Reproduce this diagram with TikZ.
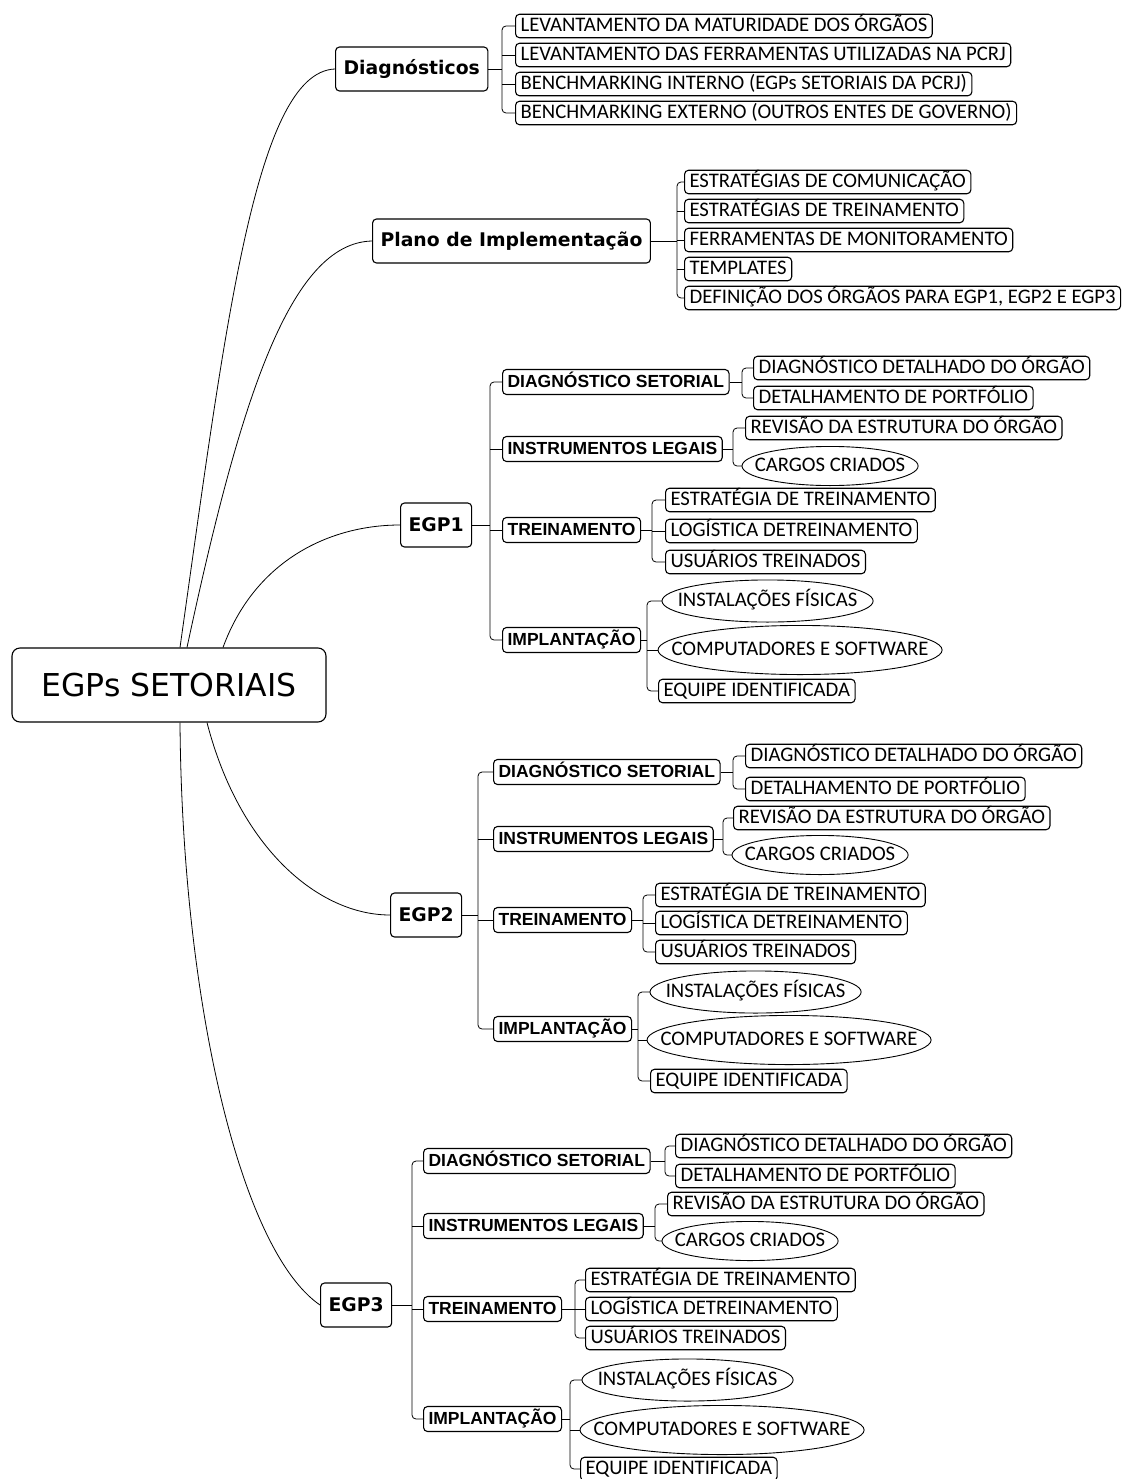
\documentclass[tikz,border=0pt]{standalone}
\usepackage{fontspec}
\setmainfont{Carlito}
\newfontfamily\rootfont{DejaVu Sans}
\newfontfamily\ltwofont{Liberation Sans}
\usetikzlibrary{calc}
\tikzset{
  box/.style={draw, rounded corners=4pt, line width=1.1pt},
  rootbox/.style={box, rounded corners=8pt, minimum width=314pt, minimum height=74pt,
    font={\rootfont\fontsize{31.5pt}{33pt}\selectfont}},
  lone/.style={box, anchor=west, minimum height=44pt, inner xsep=8pt,
    font={\rootfont\bfseries\fontsize{18.8pt}{20pt}\selectfont}},
  ltwo/.style={box, anchor=west, inner xsep=5pt, inner ysep=3pt, text height=15pt, text depth=4pt,
    font={\ltwofont\bfseries\fontsize{17.5pt}{18pt}\selectfont}},
  leaf/.style={box, anchor=west, inner xsep=5pt, inner ysep=1.5pt, text height=16pt, text depth=4.5pt,
    font={\fontsize{20.7pt}{22pt}\selectfont}},
  leafE/.style={leaf, draw=none},
  cargo/.style={leafE, minimum width=175pt, minimum height=38pt},
  inst/.style={leafE, minimum width=210pt, minimum height=41pt},
  comp/.style={leafE, minimum width=283pt, minimum height=48pt},
  link/.style={line width=0.8pt, black},
  ell/.style={line width=0.9pt, black},
}
\newcommand\mygrp[4]{%
  \coordinate (#1x) at (#2,0);
  \coordinate (#1b) at (#1.east -| #1x);
  \draw[link] (#1.east) -- (#1b);
  \draw[link,rounded corners=4pt] (#3.west) -| (#1b) |- (#4.west);
}
\newcommand\mystub[2]{\draw[link] (#1b |- #2.west) -- (#2.west);}
\newcommand\myell[1]{%
  \draw[ell] let \p1=($(#1.east)-(#1.center)$), \p2=($(#1.north)-(#1.center)$) in
    (#1.center) ellipse [x radius=\x1, y radius=\y2];
}
\begin{document}
\begin{tikzpicture}[x=1pt,y=-1pt]
\path[fill=white,use as bounding box] (0,0) rectangle (1134,1479);

% root
\node[rootbox] (root) at (169,685) {EGPs SETORIAIS};

% level 1
\node[lone] (diag) at (335,69) {Diagnósticos};
\node[lone] (plano) at (372,241) {Plano de Implementação};
\node[lone] (egpA) at (400,525) {EGP1};
\node[lone] (egpB) at (390,915) {EGP2};
\node[lone] (egpC) at (320,1305) {EGP3};

% root connectors
\draw[link] ($(root.north)+(11,0)$) .. controls (225,330) and (255,72) .. (diag.west);
\draw[link] ($(root.north)+(18,0)$) .. controls (240,400) and (290,243) .. (plano.west);
\draw[link] ($(root.north)+(54,0)$) .. controls (255,560) and (330,525) .. (egpA.west);
\draw[link] ($(root.south)+(38,0)$) .. controls (240,850) and (320,915) .. (egpB.west);
\draw[link] ($(root.south)+(11,0)$) .. controls (182,1000) and (240,1250) .. (egpC.west);

% Diagnosticos
\node[leaf] (d1) at (515,26) {LEVANTAMENTO DA MATURIDADE DOS ÓRGÃOS};
\node[leaf] (d2) at (515,55) {LEVANTAMENTO DAS FERRAMENTAS UTILIZADAS NA PCRJ};
\node[leaf] (d3) at (515,84) {BENCHMARKING INTERNO (EGPs SETORIAIS DA PCRJ)};
\node[leaf] (d4) at (515,113) {BENCHMARKING EXTERNO (OUTROS ENTES DE GOVERNO)};
\mygrp{diag}{502}{d1}{d4}
\mystub{diag}{d2}
\mystub{diag}{d3}

% Plano
\node[leaf] (p1) at (684,182) {ESTRATÉGIAS DE COMUNICAÇÃO};
\node[leaf] (p2) at (684,211) {ESTRATÉGIAS DE TREINAMENTO};
\node[leaf] (p3) at (684,240) {FERRAMENTAS DE MONITORAMENTO};
\node[leaf] (p4) at (684,269) {TEMPLATES};
\node[leaf] (p5) at (684,298) {DEFINIÇÃO DOS ÓRGÃOS PARA EGP1, EGP2 E EGP3};
\mygrp{plano}{677}{p1}{p5}
\mystub{plano}{p2}
\mystub{plano}{p3}
\mystub{plano}{p4}

% EGP1
\node[ltwo] (aDS) at (502,382) {DIAGNÓSTICO SETORIAL};
\node[ltwo] (aIL) at (502,449) {INSTRUMENTOS LEGAIS};
\node[ltwo] (aTR) at (502,530) {TREINAMENTO};
\node[ltwo] (aIM) at (502,640) {IMPLANTAÇÃO};
\node[leaf] (aDS1) at (753,368) {DIAGNÓSTICO DETALHADO DO ÓRGÃO};
\node[leaf] (aDS2) at (753,398) {DETALHAMENTO DE PORTFÓLIO};
\node[leaf] (aIL1) at (745,428) {REVISÃO DA ESTRUTURA DO ÓRGÃO};
\node[cargo] (aIL2) at (742,466) {CARGOS CRIADOS};
\node[leaf] (aTR1) at (665,500) {ESTRATÉGIA DE TREINAMENTO};
\node[leaf] (aTR2) at (665,531) {LOGÍSTICA DETREINAMENTO};
\node[leaf] (aTR3) at (665,562) {USUÁRIOS TREINADOS};
\node[inst] (aIM1) at (662,601) {INSTALAÇÕES FÍSICAS};
\node[comp] (aIM2) at (658,650) {COMPUTADORES E SOFTWARE};
\node[leaf] (aIM3) at (658,691) {EQUIPE IDENTIFICADA};
\myell{aIL2}\myell{aIM1}\myell{aIM2}
\mygrp{egpA}{490}{aDS}{aIM}
\mystub{egpA}{aIL}
\mystub{egpA}{aTR}
\mygrp{aDS}{742}{aDS1}{aDS2}
\mygrp{aIL}{733}{aIL1}{aIL2}
\mygrp{aTR}{652}{aTR1}{aTR3}
\mystub{aTR}{aTR2}
\mygrp{aIM}{647}{aIM1}{aIM3}
\mystub{aIM}{aIM2}

% EGP2
\node[ltwo] (bDS) at (493,772) {DIAGNÓSTICO SETORIAL};
\node[ltwo] (bIL) at (493,839) {INSTRUMENTOS LEGAIS};
\node[ltwo] (bTR) at (493,920) {TREINAMENTO};
\node[ltwo] (bIM) at (493,1029) {IMPLANTAÇÃO};
\node[leaf] (bDS1) at (745,756) {DIAGNÓSTICO DETALHADO DO ÓRGÃO};
\node[leaf] (bDS2) at (745,789) {DETALHAMENTO DE PORTFÓLIO};
\node[leaf] (bIL1) at (733,818) {REVISÃO DA ESTRUTURA DO ÓRGÃO};
\node[cargo] (bIL2) at (732,855) {CARGOS CRIADOS};
\node[leaf] (bTR1) at (655,895) {ESTRATÉGIA DE TREINAMENTO};
\node[leaf] (bTR2) at (655,923) {LOGÍSTICA DETREINAMENTO};
\node[leaf] (bTR3) at (655,952) {USUÁRIOS TREINADOS};
\node[inst] (bIM1) at (650,992) {INSTALAÇÕES FÍSICAS};
\node[comp] (bIM2) at (647,1040) {COMPUTADORES E SOFTWARE};
\node[leaf] (bIM3) at (650,1081) {EQUIPE IDENTIFICADA};
\myell{bIL2}\myell{bIM1}\myell{bIM2}
\mygrp{egpB}{478}{bDS}{bIM}
\mystub{egpB}{bIL}
\mystub{egpB}{bTR}
\mygrp{bDS}{733}{bDS1}{bDS2}
\mygrp{bIL}{723}{bIL1}{bIL2}
\mygrp{bTR}{643}{bTR1}{bTR3}
\mystub{bTR}{bTR2}
\mygrp{bIM}{638}{bIM1}{bIM3}
\mystub{bIM}{bIM2}

% EGP3
\node[ltwo] (cDS) at (423,1161) {DIAGNÓSTICO SETORIAL};
\node[ltwo] (cIL) at (423,1226) {INSTRUMENTOS LEGAIS};
\node[ltwo] (cTR) at (423,1309) {TREINAMENTO};
\node[ltwo] (cIM) at (423,1419) {IMPLANTAÇÃO};
\node[leaf] (cDS1) at (675,1146) {DIAGNÓSTICO DETALHADO DO ÓRGÃO};
\node[leaf] (cDS2) at (675,1176) {DETALHAMENTO DE PORTFÓLIO};
\node[leaf] (cIL1) at (667,1204) {REVISÃO DA ESTRUTURA DO ÓRGÃO};
\node[cargo] (cIL2) at (662,1241) {CARGOS CRIADOS};
\node[leaf] (cTR1) at (585,1280) {ESTRATÉGIA DE TREINAMENTO};
\node[leaf] (cTR2) at (585,1309) {LOGÍSTICA DETREINAMENTO};
\node[leaf] (cTR3) at (585,1338) {USUÁRIOS TREINADOS};
\node[inst] (cIM1) at (582,1380) {INSTALAÇÕES FÍSICAS};
\node[comp] (cIM2) at (580,1430) {COMPUTADORES E SOFTWARE};
\node[leaf] (cIM3) at (580,1469) {EQUIPE IDENTIFICADA};
\myell{cIL2}\myell{cIM1}\myell{cIM2}
\mygrp{egpC}{412}{cDS}{cIM}
\mystub{egpC}{cIL}
\mystub{egpC}{cTR}
\mygrp{cDS}{665}{cDS1}{cDS2}
\mygrp{cIL}{655}{cIL1}{cIL2}
\mygrp{cTR}{575}{cTR1}{cTR3}
\mystub{cTR}{cTR2}
\mygrp{cIM}{570}{cIM1}{cIM3}
\mystub{cIM}{cIM2}
\end{tikzpicture}
\end{document}
